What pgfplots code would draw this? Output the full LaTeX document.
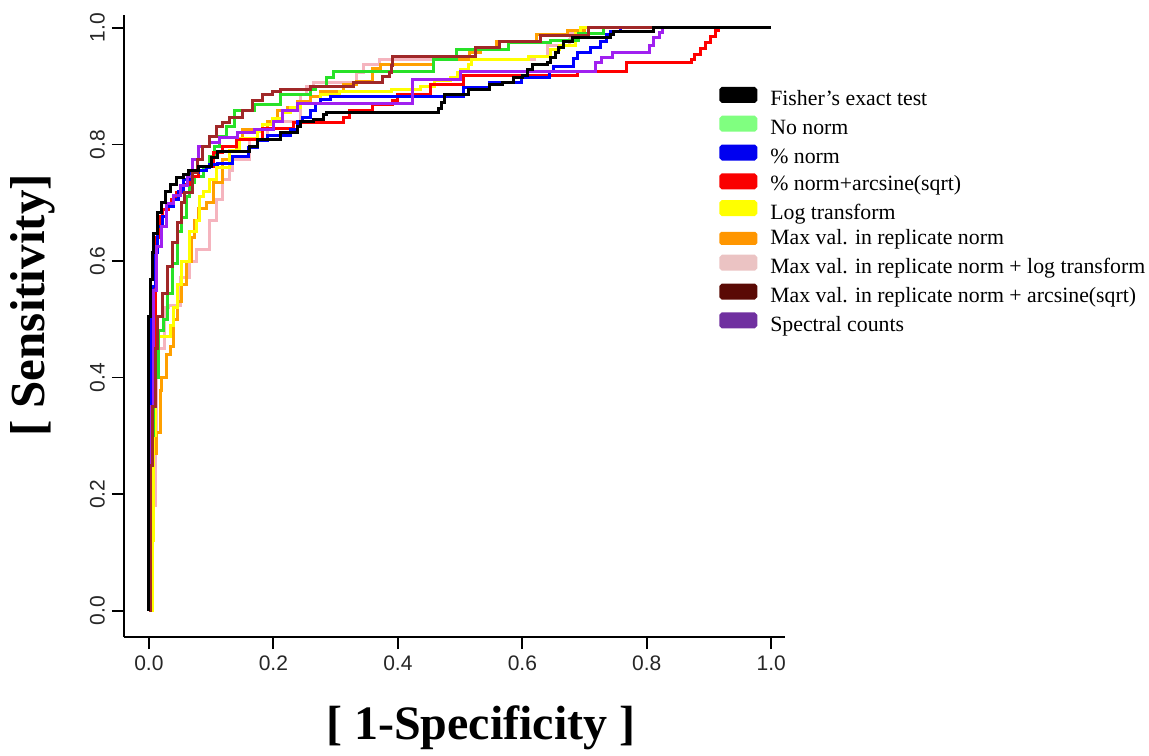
\documentclass[border=0pt]{standalone}
\usepackage{fontspec}
\setmainfont{Liberation Serif}
\newfontfamily\ticksf{Liberation Sans}
\usepackage{pgfplots}
\pgfplotsset{compat=1.18}
% line colours
\definecolor{cgreen}{RGB}{40,225,40}
\definecolor{cblue}{RGB}{0,0,255}
\definecolor{cred}{RGB}{255,0,0}
\definecolor{cyellow}{RGB}{255,255,0}
\definecolor{corange}{RGB}{255,160,0}
\definecolor{cpink}{RGB}{245,180,190}
\definecolor{cbrown}{RGB}{160,40,40}
\definecolor{cpurple}{RGB}{160,32,240}
% legend swatch colours
\definecolor{lgreen}{RGB}{128,255,128}
\definecolor{lblue}{RGB}{0,0,240}
\definecolor{lred}{RGB}{250,0,0}
\definecolor{lyellow}{RGB}{255,255,0}
\definecolor{lorange}{RGB}{255,150,0}
\definecolor{lpink}{RGB}{235,195,195}
\definecolor{lbrown}{RGB}{90,10,5}
\definecolor{lpurple}{RGB}{112,48,160}
\begin{document}
\begin{tikzpicture}
\path[use as bounding box] (-62pt,-59pt) rectangle (512.5pt,318.5pt);
\begin{axis}[
  at={(0,0)}, anchor=south west,
  scale only axis, width=330.5pt, height=311pt,
  xmin=-0.04, xmax=1.022, ymin=-0.045, ymax=1.022,
  axis x line*=bottom, axis y line*=left,
  axis line style={line width=0.9pt,-},
  tick align=outside, major tick length=6pt,
  tick style={line width=0.9pt, black},
  xtick={0,0.2,0.4,0.6,0.8,1.0}, ytick={0,0.2,0.4,0.6,0.8,1.0},
  /pgf/number format/assume math mode=true,
  /pgf/number format/fixed, /pgf/number format/fixed zerofill, /pgf/number format/precision=1,
  tick label style={font=\ticksf\fontsize{10.5}{12}\selectfont, text=black!85},
  yticklabel style={rotate=90, anchor=south},
  xlabel={[ 1-Specificity ]},
  ylabel={[ Sensitivity]},
  x label style={at={(axis description cs:0.54,-0.146)}, anchor=center, font=\bfseries\fontsize{24}{28}\selectfont},
  y label style={at={(axis description cs:-0.138,0.533)}, anchor=center, rotate=0, font=\bfseries\fontsize{24.5}{28}\selectfont},
  legend cell align=left,
  legend style={draw=none, fill=none, at={(axis description cs:0.9,0.885)}, anchor=north west,
    font=\fontsize{10.9}{13}\selectfont, inner sep=0pt, row sep=2.4pt, column sep=6.5pt,
    nodes={inner sep=0pt, text height=8pt, text depth=2.5pt}},
  every axis plot/.append style={const plot, line width=1.5pt, forget plot},
]
% Max val + log transform (pink)
\addplot[color=cpink] coordinates {(0,0)(0.004,0.12)(0.006,0.18)(0.010,0.30)(0.012,0.40)(0.016,0.45)(0.025,0.52)(0.031,0.523)(0.050,0.572)(0.066,0.60)(0.077,0.62)(0.098,0.67)(0.109,0.705)(0.119,0.74)(0.130,0.755)(0.135,0.774)(0.162,0.808)(0.190,0.840)(0.243,0.885)(0.254,0.899)(0.264,0.906)(0.334,0.923)(0.345,0.937)(0.370,0.945)(0.620,0.950)(0.640,0.970)(0.675,0.980)(0.678,0.990)(0.700,1.0)(1,1)};
% Max val (orange)
\addplot[color=corange] coordinates {(0,0)(0.003,0.12)(0.005,0.27)(0.013,0.305)(0.018,0.378)(0.021,0.40)(0.029,0.44)(0.034,0.453)(0.039,0.50)(0.046,0.53)(0.053,0.56)(0.061,0.60)(0.069,0.64)(0.074,0.67)(0.079,0.69)(0.093,0.70)(0.103,0.735)(0.119,0.774)(0.130,0.79)(0.141,0.81)(0.151,0.825)(0.190,0.840)(0.206,0.859)(0.222,0.864)(0.238,0.873)(0.259,0.882)(0.275,0.890)(0.312,0.903)(0.334,0.908)(0.360,0.930)(0.372,0.937)(0.457,0.945)(0.515,0.957)(0.532,0.966)(0.559,0.976)(0.623,0.988)(0.672,0.995)(0.700,1.0)(1,1)};
% Log transform (yellow)
\addplot[color=cyellow] coordinates {(0,0)(0.005,0.12)(0.008,0.30)(0.011,0.47)(0.035,0.49)(0.040,0.52)(0.046,0.56)(0.053,0.60)(0.066,0.65)(0.077,0.67)(0.082,0.71)(0.087,0.72)(0.098,0.74)(0.109,0.76)(0.130,0.79)(0.146,0.81)(0.174,0.822)(0.183,0.835)(0.198,0.845)(0.215,0.855)(0.227,0.864)(0.243,0.871)(0.275,0.885)(0.307,0.890)(0.390,0.894)(0.437,0.900)(0.459,0.910)(0.484,0.914)(0.496,0.923)(0.501,0.928)(0.514,0.937)(0.518,0.945)(0.610,0.950)(0.645,0.962)(0.660,0.970)(0.685,0.990)(0.694,1.0)(1,1)};
% No norm (green)
\addplot[color=cgreen] coordinates {(0,0)(0.003,0.30)(0.008,0.40)(0.015,0.48)(0.024,0.50)(0.030,0.545)(0.038,0.595)(0.046,0.65)(0.053,0.675)(0.061,0.71)(0.066,0.735)(0.074,0.745)(0.087,0.762)(0.098,0.779)(0.106,0.796)(0.114,0.813)(0.125,0.83)(0.138,0.859)(0.170,0.868)(0.211,0.885)(0.260,0.894)(0.267,0.90)(0.286,0.914)(0.296,0.925)(0.457,0.945)(0.495,0.962)(0.578,0.974)(0.645,0.979)(0.690,0.990)(0.730,1.0)(1,1)};
% % norm + arcsine (red)
\addplot[color=cred] coordinates {(0,0)(0.003,0.30)(0.006,0.45)(0.010,0.602)(0.013,0.641)(0.018,0.676)(0.022,0.689)(0.031,0.698)(0.037,0.705)(0.045,0.717)(0.055,0.731)(0.066,0.745)(0.079,0.756)(0.093,0.762)(0.103,0.786)(0.119,0.796)(0.141,0.808)(0.183,0.828)(0.232,0.837)(0.312,0.847)(0.323,0.859)(0.360,0.868)(0.392,0.876)(0.399,0.885)(0.452,0.902)(0.505,0.919)(0.688,0.925)(0.768,0.940)(0.871,0.945)(0.876,0.955)(0.886,0.965)(0.894,0.975)(0.902,0.985)(0.910,0.995)(0.915,1.0)(1,1)};
% % norm (blue)
\addplot[color=cblue] coordinates {(0,0)(0.002,0.40)(0.003,0.504)(0.005,0.556)(0.010,0.614)(0.014,0.659)(0.022,0.676)(0.029,0.693)(0.039,0.705)(0.047,0.72)(0.055,0.739)(0.069,0.751)(0.079,0.756)(0.093,0.760)(0.098,0.765)(0.111,0.768)(0.135,0.780)(0.160,0.795)(0.175,0.806)(0.190,0.815)(0.227,0.826)(0.238,0.839)(0.246,0.847)(0.259,0.858)(0.267,0.870)(0.275,0.877)(0.291,0.882)(0.506,0.897)(0.548,0.906)(0.598,0.914)(0.643,0.925)(0.650,0.934)(0.682,0.948)(0.688,0.957)(0.709,0.966)(0.725,0.976)(0.736,0.988)(0.741,0.993)(0.757,1.0)(1,1)};
% Spectral counts (purple)
\addplot[color=cpurple] coordinates {(0,0)(0.003,0.35)(0.008,0.55)(0.013,0.625)(0.020,0.66)(0.029,0.699)(0.039,0.712)(0.050,0.729)(0.062,0.745)(0.070,0.774)(0.079,0.796)(0.098,0.804)(0.114,0.811)(0.142,0.820)(0.170,0.825)(0.200,0.840)(0.214,0.859)(0.238,0.871)(0.424,0.911)(0.500,0.925)(0.717,0.940)(0.727,0.949)(0.745,0.957)(0.805,0.969)(0.810,0.983)(0.820,0.992)(0.825,1.0)(1,1)};
% Max val + arcsine (brown)
\addplot[color=cbrown] coordinates {(0,0)(0.003,0.25)(0.006,0.35)(0.010,0.45)(0.0145,0.504)(0.0225,0.545)(0.0305,0.590)(0.0386,0.631)(0.0466,0.666)(0.053,0.700)(0.058,0.717)(0.0707,0.751)(0.0788,0.774)(0.0868,0.796)(0.098,0.813)(0.109,0.830)(0.119,0.837)(0.130,0.847)(0.151,0.859)(0.166,0.876)(0.183,0.885)(0.198,0.890)(0.211,0.894)(0.259,0.899)(0.328,0.906)(0.376,0.916)(0.387,0.923)(0.390,0.935)(0.392,0.950)(0.524,0.966)(0.564,0.976)(0.629,0.986)(0.706,1.0)(1,1)};
% Fisher's exact test (black)
\addplot[color=black] coordinates {(0,0)(0,0.504)(0.002,0.568)(0.005,0.614)(0.008,0.648)(0.014,0.683)(0.021,0.700)(0.026,0.719)(0.034,0.731)(0.045,0.743)(0.055,0.748)(0.063,0.756)(0.080,0.762)(0.101,0.778)(0.111,0.787)(0.162,0.796)(0.175,0.808)(0.211,0.820)(0.238,0.830)(0.243,0.839)(0.264,0.842)(0.280,0.851)(0.286,0.854)(0.466,0.862)(0.470,0.872)(0.475,0.885)(0.513,0.894)(0.548,0.902)(0.568,0.907)(0.585,0.914)(0.601,0.919)(0.609,0.928)(0.617,0.937)(0.640,0.940)(0.645,0.949)(0.653,0.957)(0.658,0.967)(0.666,0.976)(0.680,0.983)(0.741,0.988)(0.746,0.993)(0.810,1.000)(1,1)};
% legend
\addlegendimage{legend image code/.code={\fill[black, rounded corners=0.8pt] (0pt,-0.5pt) rectangle (17.5pt,6pt);}}
\addlegendentry{Fisher’s exact test}
\addlegendimage{legend image code/.code={\fill[lgreen, rounded corners=0.8pt] (0pt,-0.5pt) rectangle (17.5pt,6pt);}}
\addlegendentry{No norm}
\addlegendimage{legend image code/.code={\fill[lblue, rounded corners=0.8pt] (0pt,-0.5pt) rectangle (17.5pt,6pt);}}
\addlegendentry{\% norm}
\addlegendimage{legend image code/.code={\fill[lred, rounded corners=0.8pt] (0pt,-1.5pt) rectangle (17.5pt,5pt);}}
\addlegendentry{\% norm+arcsine(sqrt)}
\addlegendimage{legend image code/.code={\fill[lyellow, rounded corners=0.8pt] (0pt,-0.5pt) rectangle (17.5pt,6pt);}}
\addlegendentry{Log transform}
\addlegendimage{legend image code/.code={\fill[lorange, rounded corners=0.5pt] (0pt,-2pt) rectangle (17.5pt,3pt);}}
\addlegendentry{Max val. in replicate norm}
\addlegendimage{legend image code/.code={\fill[lpink, rounded corners=0.8pt] (0pt,-0.5pt) rectangle (17.5pt,6pt);}}
\addlegendentry{Max val. in replicate norm + log transform}
\addlegendimage{legend image code/.code={\fill[lbrown, rounded corners=0.8pt] (0pt,-0.5pt) rectangle (17.5pt,6pt);}}
\addlegendentry{Max val. in replicate norm + arcsine(sqrt)}
\addlegendimage{legend image code/.code={\fill[lpurple, rounded corners=0.8pt] (0pt,-0.5pt) rectangle (17.5pt,6pt);}}
\addlegendentry{Spectral counts}
\end{axis}
\end{tikzpicture}
\end{document}
